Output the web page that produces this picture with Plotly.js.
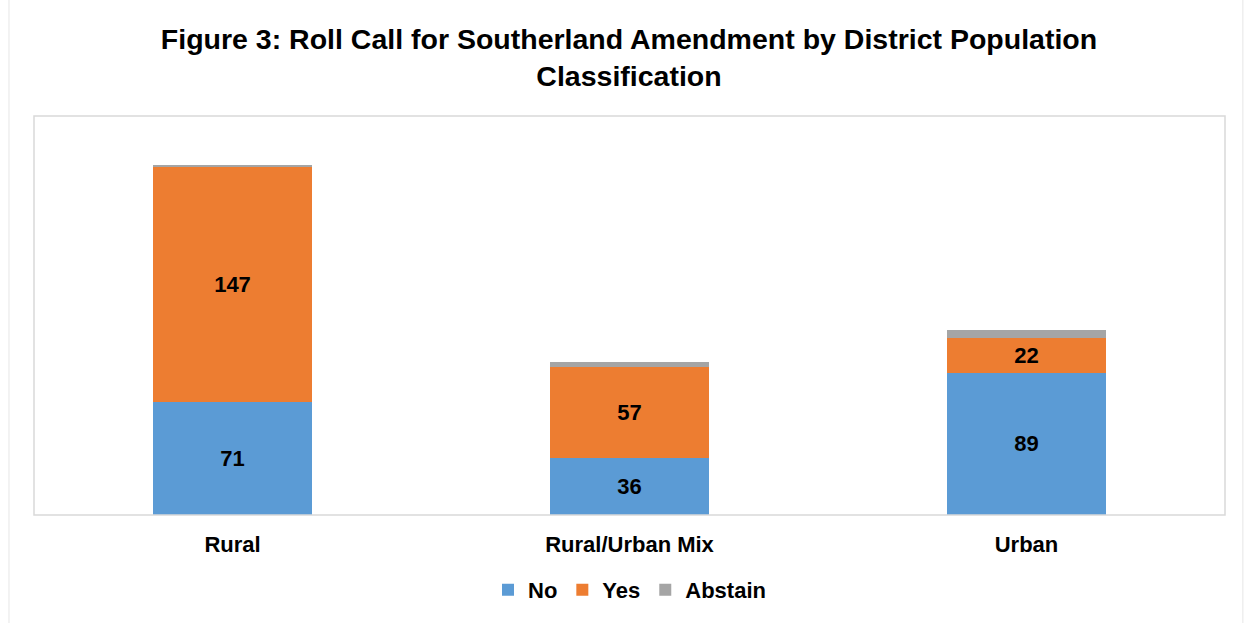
<!DOCTYPE html>
<html><head><meta charset="utf-8">
<script src="https://cdn.plot.ly/plotly-3.0.1.min.js"></script>
<style>html,body{margin:0;padding:0;background:#fff}#chart{width:1248px;height:623px}</style>
</head><body><div id="chart"></div>
<script>
const categories = ["Rural", "Rural/Urban Mix", "Urban"];
const noVotes = [71, 36, 89];
const yesVotes = [147, 57, 22];
const abstainVotes = [1, 3, 5];

const FAM = "Liberation Sans, Arial, sans-serif";
function trace(name, vals, color, showText) {
  return {
    type: "bar", name: name, x: categories, y: vals,
    marker: {color: color},
    text: showText ? vals.map(String) : undefined,
    textposition: showText ? "inside" : "none",
    insidetextanchor: "middle",
    textfont: {family: FAM, size: 22, color: "#000", weight: "bold"},
    hoverinfo: "skip"
  };
}
const data = [
  trace("No", noVotes, "#5B9BD5", true),
  trace("Yes", yesVotes, "#ED7D31", true),
  trace("Abstain", abstainVotes, "#A5A5A5", false)
];
const layout = {
  width: 1248, height: 623,
  barmode: "stack", bargap: 0.6,
  paper_bgcolor: "#fff", plot_bgcolor: "#fff",
  margin: {l: 34, r: 23, t: 116, b: 108},
  title: {text: "<b>Figure 3: Roll Call for Southerland Amendment by District Population<br>Classification</b>",
    font: {family: FAM, size: 28.5, color: "#000"},
    x: 0.504, xanchor: "center", y: 0.922, yanchor: "top"},
  xaxis: {showgrid: false, zeroline: false, showline: false, ticks: "", ticklabelstandoff: 14,
    tickfont: {family: FAM, size: 22, color: "#000", weight: "bold"}},
  yaxis: {range: [0, 250], showgrid: false, zeroline: false, showticklabels: false, ticks: "", showline: false},
  showlegend: true,
  legend: {orientation: "h", x: 0.5, xanchor: "center", y: -0.135, yanchor: "top",
    font: {family: FAM, size: 22, color: "#000", weight: "bold"},
    traceorder: "normal", itemwidth: 30},
  shapes: [
    {type: "rect", xref: "paper", yref: "paper", x0: 0, x1: 1, y0: 0, y1: 1,
      line: {color: "#D9D9D9", width: 1.5}, fillcolor: "rgba(0,0,0,0)"},
    {type: "rect", xref: "paper", yref: "paper", x0: -0.021, x1: 1.015, y0: -0.3, y1: 1.3,
      line: {color: "#E6E6E6", width: 1}, fillcolor: "rgba(0,0,0,0)"}
  ]
};
Plotly.newPlot("chart", data, layout, {displayModeBar: false, staticPlot: true});
</script></body></html>
